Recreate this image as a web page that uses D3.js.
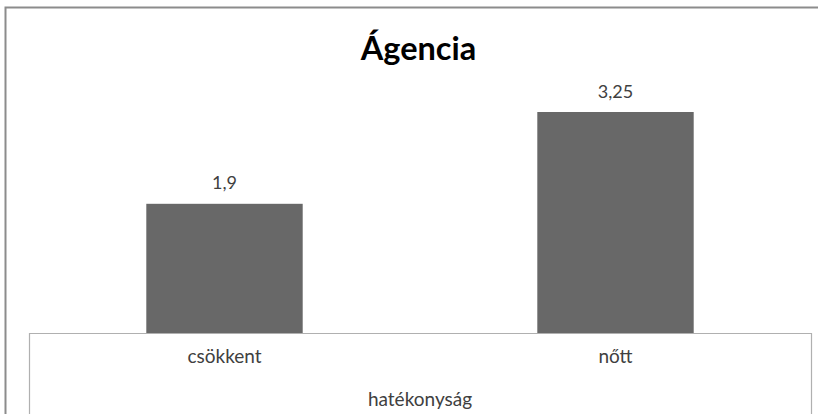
<!DOCTYPE html>
<html>
<head>
<meta charset="utf-8">
<script src="https://cdn.jsdelivr.net/npm/d3@7"></script>
<style>
  html, body { margin: 0; padding: 0; background: #fff; }
  svg { display: block; }
  text { font-family: Lato, "Open Sans", sans-serif; }
</style>
</head>
<body>
<svg id="chart" width="818" height="417"></svg>
<script>
// Chart data
const title = "Ágencia";
const categories = ["csökkent", "nőtt"];
const values = [1.9, 3.25];
const valueLabels = ["1,9", "3,25"];
const axisTitle = "hatékonyság";

const W = 818, H = 417;
const svg = d3.select("#chart");

// Plot area
const plot = { left: 29, right: 811, top: 61, bottom: 333 };

const x = d3.scaleBand()
  .domain(categories)
  .range([plot.left, plot.right])
  .paddingInner(0)
  .paddingOuter(0);

const y = d3.scaleLinear()
  .domain([0, 4])
  .range([plot.bottom, plot.top]);

const barWidth = x.bandwidth() * 0.4;

// Outer chart frame (top and left edges visible)
svg.append("path")
  .attr("d", `M5.5,414 V7.5 H818`)
  .attr("fill", "none")
  .attr("stroke", "#8c8c8c")
  .attr("stroke-width", 2);

// Title
svg.append("text")
  .attr("x", 418.5)
  .attr("y", 60)
  .attr("text-anchor", "middle")
  .attr("font-size", 32.5)
  .attr("font-weight", "bold")
  .attr("fill", "#000")
  .text(title);

// Bars
svg.selectAll("rect.bar")
  .data(values)
  .join("rect")
  .attr("class", "bar")
  .attr("x", (d, i) => x(categories[i]) + (x.bandwidth() - barWidth) / 2)
  .attr("width", barWidth)
  .attr("y", d => y(d))
  .attr("height", d => y(0) - y(d))
  .attr("fill", "#686868");

// Value labels
svg.selectAll("text.val")
  .data(values)
  .join("text")
  .attr("class", "val")
  .attr("x", (d, i) => x(categories[i]) + x.bandwidth() / 2)
  .attr("y", d => y(d) - 14.5)
  .attr("text-anchor", "middle")
  .attr("font-size", 18)
  .attr("fill", "#404040")
  .text((d, i) => valueLabels[i]);

// Category axis box
svg.append("path")
  .attr("d", `M${plot.left + 0.5},414 V${plot.bottom + 0.5} H${plot.right + 0.5} V414`)
  .attr("fill", "none")
  .attr("stroke", "#b0b0b0")
  .attr("stroke-width", 1.2);

// Category labels via axis generator
const xAxis = d3.axisBottom(x).tickSize(0).tickPadding(0);
const gx = svg.append("g")
  .attr("transform", `translate(0,${plot.bottom})`)
  .call(xAxis);
gx.select(".domain").remove();
gx.selectAll("text")
  .attr("y", 30)
  .attr("dy", 0)
  .attr("font-size", 19)
  .attr("font-family", "Lato, 'Open Sans', sans-serif")
  .attr("fill", "#404040");

// Axis title
svg.append("text")
  .attr("x", (plot.left + plot.right) / 2)
  .attr("y", 406)
  .attr("text-anchor", "middle")
  .attr("font-size", 19)
  .attr("fill", "#404040")
  .text(axisTitle);
</script>
</body>
</html>
